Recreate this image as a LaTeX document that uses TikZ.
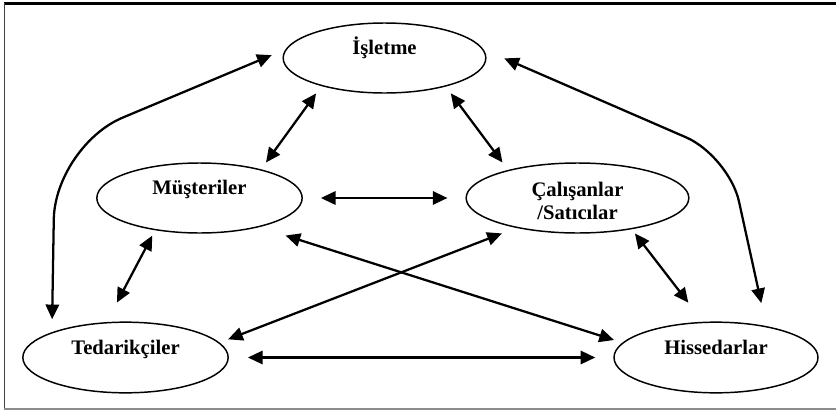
\documentclass[tikz,border=0pt]{standalone}
\usepackage{fontspec}
\setmainfont{Liberation Serif}
\usetikzlibrary{arrows.meta, shapes.geometric}

\begin{document}
\begin{tikzpicture}[x = 0.75pt, y = -0.75pt,
		ent/.style = {draw, ellipse, line width = 1.1pt, inner sep = 0pt, minimum height = 52.5pt},
		lbl/.style = {font = \fontsize{15.5}{17.3}\selectfont\bfseries, inner sep = 0pt, align = center},
		link/.style = {line width = 1.7pt, {Triangle[length = 11pt, width = 10pt]}-{Triangle[length = 11pt, width = 10pt]}}]
		\useasboundingbox (0,0) rectangle (836,411);
		\draw[line width = 1.6pt] (3.5,3.5) -- (836,3.5);
		\draw[line width = 1pt, black!75] (4.5,3) -- (4.5,409);
		\draw[line width = 0.8pt, black!45] (4,409) -- (836,409);
		\node[ent, minimum width = 152pt] (isl) at (384.5,58) {};
		\node[ent, minimum width = 154pt] (mus) at (199.5,198) {};
		\node[ent, minimum width = 167pt] (cal) at (577.5,198) {};
		\node[ent, minimum width = 154pt, minimum height = 53pt] (ted) at (125.5,357.5) {};
		\node[ent, minimum width = 153pt, minimum height = 53pt] (his) at (716,357.5) {};
		\node[lbl, anchor = base] (isl-t) at (384.5,54) {İşletme};
		\node[lbl, anchor = base] (mus-t) at (199.5,194) {Müşteriler};
		\node[lbl] (cal-t) at (577.5,201) {Çalışanlar\\/Satıcılar};
		\node[lbl, anchor = base] (ted-t) at (125.5,354) {Tedarikçiler};
		\node[lbl, anchor = base] (his-t) at (716,354) {Hissedarlar};
		\coordinate (lbend) at (55,146);
		\coordinate (rbend) at (729,156);
		\draw[link, shorten <= 6.8pt, shorten >= 6.3pt] (isl.204) -- (mus.25);
		\draw[link, shorten <= 6.3pt, shorten >= 7pt] (isl.335) -- (cal.158);
		\draw[link, shorten <= 13.5pt, shorten >= 13.5pt] (mus.east) -- (cal.west);
		\draw[link, shorten <= 4.5pt, shorten >= 16.5pt] (mus.216) -- (ted.118);
		\draw[link, shorten <= 4pt, shorten >= 18pt] (cal.330) -- (his.110);
		\draw[link, shorten <= 14.3pt, shorten >= 13.5pt] (ted.east) -- (his.west);
		\draw[link, shorten <= 6.8pt, shorten >= 11.5pt] (ted.9) -- (cal.206);
		\draw[link, shorten <= 20.7pt, shorten >= 6.6pt] (mus.334) -- (his.171);
		\draw[link, rounded corners = 55pt, shorten <= 11.2pt, shorten >= 9.7pt] (isl.175) -- (lbend) -- (ted.161);
		\draw[link, rounded corners = 35pt, shorten <= 17pt, shorten >= 17.6pt] (isl.5) -- (rbend) -- (his.32);
	\end{tikzpicture}
\end{document}
